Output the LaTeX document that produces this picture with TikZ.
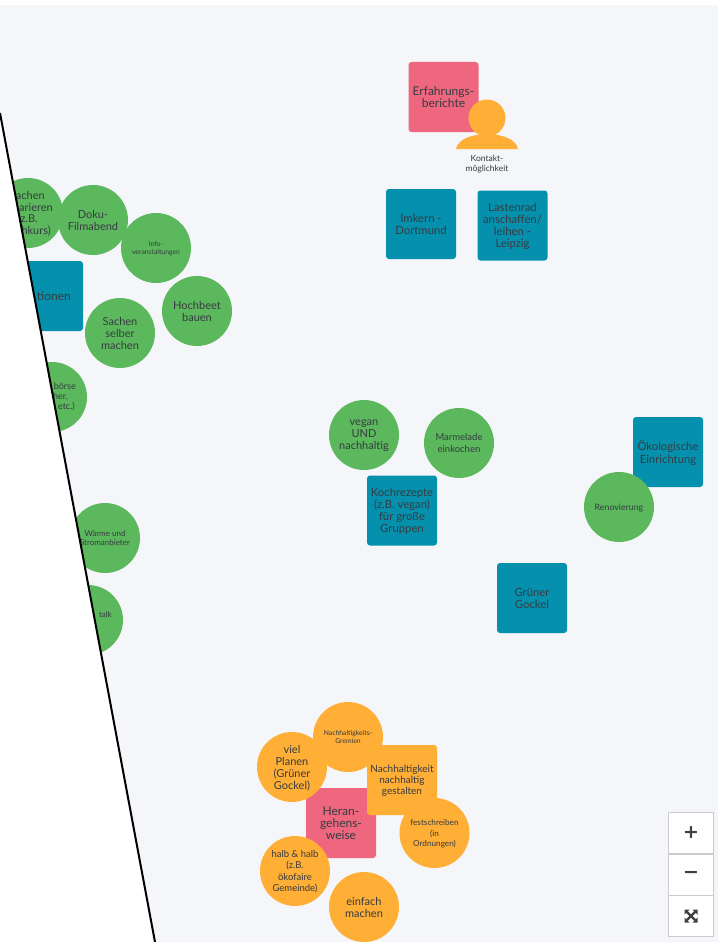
\documentclass[tikz,border=0pt]{standalone}
\usepackage{fontspec}
\setmainfont{Lato}
\newfontfamily\heavy{DejaVu Sans}
\usepackage{tikz}
\usetikzlibrary{positioning}
\definecolor{bg}{HTML}{F4F6F9}
\definecolor{leaf}{HTML}{5CB85C}
\definecolor{teal}{HTML}{0591AD}
\definecolor{rose}{HTML}{EE677F}
\definecolor{amber}{HTML}{FFAE36}
\definecolor{ink}{HTML}{363B41}
\newcommand{\gap}[1]{\rule{#1pt}{0pt}}
\tikzset{
	idea/.style={circle, minimum size=70pt, inner sep=0pt, align=center, text=ink, text depth=-3.7pt, font=\fontsize{11}{12}\selectfont},
	card/.style={rectangle, rounded corners=3pt, minimum size=70pt, inner sep=0pt, align=center, text=ink, text depth=-3.7pt, font=\fontsize{11.3}{12.2}\selectfont},
	green/.style={idea, fill=leaf},
	orange/.style={idea, fill=amber},
	blue/.style={card, fill=teal},
	pink/.style={card, fill=rose, font=\fontsize{12}{12.3}\selectfont},
	tiny/.style={font=\fontsize{6.8}{8.2}\selectfont},
	small/.style={font=\fontsize{8}{8.6}\selectfont},
	mid/.style={font=\fontsize{9.5}{11.2}\selectfont},
	btn/.style={rectangle, draw=black!20, fill=white, minimum width=45pt, minimum height=41pt, inner sep=0pt, font=\heavy\fontsize{19}{19}\bfseries\selectfont, text=black!75},
}
\begin{document}
\begin{tikzpicture}[x=1pt,y=-1pt]
	\useasboundingbox (0,0) rectangle (718,942);
	\fill[white] (0,0) rectangle (718,942);
	\fill[bg] (0,5) rectangle (718,942);

	\node[pink] (1) at (443.5,97) {Erfahrungs-\\berichte};
	\node[circle, fill=amber, minimum size=37pt, inner sep=0pt] (2) at (487,118) {};
	\fill[amber] (456,149) .. controls (458,138) and (475,134) .. (487,134) .. controls (499,134) and (516,138) .. (518,149) -- cycle;
	\node[align=center, text=ink, inner sep=0pt, font=\fontsize{8.5}{10.5}\selectfont] (3) at (487,164) {Kontakt-\\möglichkeit};
	\node[blue] (4) at (421,224) {Imkern -\\Dortmund};
	\node[blue] (5) at (512.5,225.5) {Lastenrad\\anschaffen/\\leihen -\\Leipzig};

	\node[green] (6) at (28,213) {};
	\node[green] (7) at (93,220) {Doku-\\Filmabend};
	\node[green, tiny] (8) at (156,248) {Info-\\veranstaltungen};
	\node[green] (9) at (197,311) {Hochbeet\\bauen};
	\node[blue] (10) at (48,296) {};
	\node[green] (11) at (120,333) {Sachen\\selber\\machen};
	\node[green] (12) at (52,397) {};
	\node[green, small] (13) at (105,538) {Wärme und\\Stromanbieter};
	\node[green] (14) at (88,620) {};

	\node[anchor=east, align=right, text=ink, inner sep=0pt, font=\fontsize{11}{11.5}\selectfont] (15) at (53,214) {achen\gap{8}\\arieren\\(z.B.\gap{15}\\hkurs)\gap{2}};
	\node[anchor=east, text=ink, inner sep=0pt, font=\fontsize{12}{12}\selectfont] (16) at (71,296) {tionen};
	\node[anchor=east, align=right, text=ink, inner sep=0pt, font=\fontsize{9}{10}\selectfont] (17) at (76,397) {börse\\her,\gap{8}\\etc.)\gap{1}};
	\node[anchor=east, text=ink, inner sep=0pt, small] (18) at (112,615) {talk};

	\node[green] (19) at (364,435) {vegan\\UND\\nachhaltig};
	\node[green, mid] (20) at (459,443) {Marmelade\\einkochen};
	\node[blue] (21) at (402,510.5) {Kochrezepte\\(z.B. vegan)\\für große\\Gruppen};
	\node[blue] (22) at (668,452) {Ökologische\\Einrichtung};
	\node[green, text depth=0pt, font=\fontsize{8.8}{10}\selectfont] (23) at (619,507) {Renovierung};
	\node[blue] (24) at (532,598) {Grüner\\Gockel};

	\node[pink] (25) at (341,823) {Heran-\\gehens-\\weise};
	\node[orange] (26) at (292,767) {viel\\Planen\\(Grüner\\Gockel)};
	\node[orange, tiny] (27) at (348,737) {Nachhaltigkeits-\\Gremien};
	\node[card, fill=amber, font=\fontsize{10}{11.2}\selectfont] (28) at (402,780) {Nachhaltigkeit\\nachhaltig\\gestalten};
	\node[orange, font=\fontsize{8.2}{10.5}\selectfont] (29) at (434.5,833) {festschreiben\\(in\\Ordnungen)};
	\node[orange, mid] (30) at (295,871) {halb \& halb\\(z.B.\\ökofaire\\Gemeinde)};
	\node[orange] (31) at (364,907) {einfach\\machen};

	\coordinate (top) at (0,113);
	\coordinate (bot) at (155,942);
	\coordinate (low) at (0,942);
	\fill[white] (top) -- (bot) -- (low) -- cycle;
	\draw[black, line width=2pt] (top) -- (bot);

	\node[btn] (plus) at (691,833) {+};
	\node[btn] (minus) at (691,874.5) {−};
	\node[btn] (full) at (691,916) {};
	\draw[black!75, line width=2.2pt] (full.center) +(-5,-5) -- +(5,5);
	\draw[black!75, line width=2.2pt] (full.center) +(5,-5) -- +(-5,5);
	\foreach \sx/\sy in {-1/-1,1/-1,-1/1,1/1}
		\fill[black!75] (full.center) +(\sx*6.5,\sy*6.5) -- +(\sx*1.5,\sy*6.5) -- +(\sx*6.5,\sy*1.5) -- cycle;
\end{tikzpicture}
\end{document}
